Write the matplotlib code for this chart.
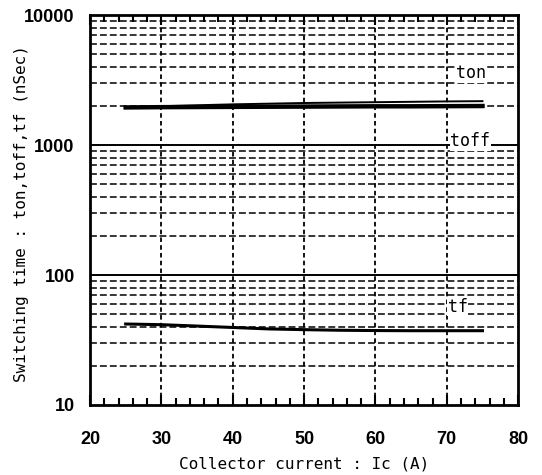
import numpy as np
import matplotlib.pyplot as plt
from matplotlib.ticker import FixedLocator, NullFormatter

# Values
ic = [25, 30, 35, 40, 45, 50, 55, 60, 65, 70, 75]
ton = [1950, 1960, 1965, 1970, 1975, 1980, 1985, 1990, 1990, 1995, 2000]
toff_x = [31, 40, 50, 60, 70, 75]
toff = [2000, 2060, 2110, 2140, 2170, 2180]
tf = [42, 41.5, 40.5, 39.5, 38.5, 38, 37.6, 37.4, 37.3, 37.3, 37.3]

xticks = [20, 30, 40, 50, 60, 70, 80]
yticks = [10, 100, 1000, 10000]
ytick_labels = ['10', '100', '1000', '10000']

fig = plt.figure(figsize=(5.42, 4.75), dpi=100)
ax = fig.add_axes([0.166, 0.1474, 0.79, 0.8206])

ax.set_yscale('log')
ax.set_xlim(20, 80)
ax.set_ylim(10, 10000)

# horizontal dashed grid on every minor decade step
for dec in [10, 100, 1000]:
    for m in range(2, 10):
        ax.axhline(dec * m, color='k', lw=1.1, ls=(0, (4.5, 2)), zorder=1)
for v in [100, 1000]:
    ax.axhline(v, color='k', lw=1.4, zorder=1)
for v in xticks[1:-1]:
    ax.axvline(v, color='k', lw=1.3, ls=(0, (2.5, 1.8)), zorder=1)

# curves
ax.plot(ic, ton, color='k', lw=3.2, zorder=3)
ax.plot(toff_x, toff, color='k', lw=1.4, zorder=3)
ax.plot(ic, tf, color='k', lw=2.2, zorder=3)

bbox = dict(facecolor='white', edgecolor='none', pad=0.5)
lab_font = dict(family='DejaVu Sans Mono', fontsize=12)
ax.text(71.3, 3600, 'ton', va='center', ha='left', bbox=bbox, zorder=4, **lab_font)
ax.text(70.5, 1070, 'toff', va='center', ha='left', bbox=bbox, zorder=4, **lab_font)
ax.text(70.1, 57, 'tf', va='center', ha='left', bbox=bbox, zorder=4, **lab_font)

ax.set_xticks(xticks)
ax.xaxis.set_minor_locator(FixedLocator(np.arange(22, 80, 2)))
ax.set_yticks(yticks)
ax.set_yticklabels(ytick_labels)
ax.yaxis.set_minor_locator(FixedLocator([]))
ax.yaxis.set_minor_formatter(NullFormatter())

ax.tick_params(axis='x', which='both', direction='in', top=True, bottom=True)
ax.tick_params(axis='x', which='major', length=7, width=1.5, pad=19)
ax.tick_params(axis='x', which='minor', length=5, width=1.5)
ax.tick_params(axis='y', which='major', length=0, pad=11)
for lbl in ax.get_xticklabels() + ax.get_yticklabels():
    lbl.set_family('Liberation Sans')
    lbl.set_fontweight('bold')
    lbl.set_fontsize(13)

for s in ax.spines.values():
    s.set_linewidth(2)
    s.set_zorder(5)

ax.set_xlabel('Collector current : Ic (A)', family='DejaVu Sans Mono', fontsize=11.5, labelpad=6)
ax.set_ylabel('Switching time : ton,toff,tf (nSec)', family='DejaVu Sans Mono', fontsize=11.5)
ax.yaxis.set_label_coords(-0.143, 0.49)

fig.savefig('out.png', dpi=100)
